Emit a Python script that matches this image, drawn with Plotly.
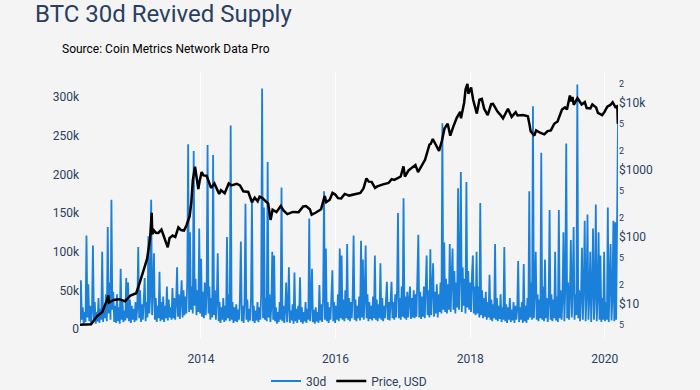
import pandas as pd
import plotly.graph_objects as go

# ---------------- data ----------------
revived_start = "2012-03-16"
revived_end = "2020-03-13"
# 30d revived supply, thousands of BTC, ~5-day steps
revived_30d_k = [
    8, 63, 12, 28, 6, 22, 9, 121, 15, 58,
    10, 30, 6, 25, 108, 12, 35, 7, 22, 10,
    40, 8, 26, 12, 100, 9, 30, 14, 45, 10,
    132, 20, 60, 12, 167, 25, 48, 9, 30, 8,
    45, 10, 28, 7, 78, 12, 35, 9, 24, 11,
    66, 14, 60, 10, 38, 8, 30, 12, 26, 9,
    35, 11, 28, 106, 14, 50, 9, 32, 12, 40,
    66, 10, 35, 15, 120, 20, 45, 167, 18, 50,
    98, 12, 40, 9, 30, 14, 74, 10, 35, 12,
    42, 9, 30, 14, 55, 11, 38, 15, 28, 12,
    53, 14, 40, 12, 35, 80, 16, 45, 13, 38,
    63, 15, 50, 18, 42, 20, 60, 239, 22, 125,
    25, 55, 20, 230, 30, 65, 18, 50, 22, 130,
    20, 91, 16, 48, 14, 60, 18, 45, 238, 20,
    55, 12, 40, 15, 225, 18, 50, 12, 38, 98,
    10, 35, 8, 28, 12, 40, 9, 30, 11, 119,
    14, 45, 10, 263, 12, 35, 8, 28, 10, 32,
    9, 25, 12, 40, 113, 10, 30, 8, 35, 162,
    12, 38, 9, 26, 11, 40, 165, 10, 30, 8,
    24, 11, 35, 9, 28, 12, 45, 311, 14, 157,
    12, 40, 10, 216, 15, 45, 9, 30, 100, 12,
    95, 10, 28, 7, 22, 9, 35, 12, 183, 10,
    30, 8, 25, 60, 9, 28, 80, 8, 24, 11,
    32, 7, 73, 10, 26, 8, 30, 12, 67, 9,
    28, 7, 22, 10, 35, 8, 26, 12, 143, 10,
    30, 78, 9, 25, 7, 28, 10, 22, 8, 57,
    11, 32, 9, 40, 178, 12, 104, 10, 35, 8,
    28, 12, 40, 76, 10, 35, 8, 30, 12, 45,
    10, 104, 14, 95, 12, 38, 10, 50, 14, 110,
    12, 40, 10, 35, 14, 45, 121, 12, 38, 10,
    30, 14, 42, 11, 114, 15, 90, 12, 40, 108,
    14, 45, 10, 35, 13, 30, 11, 42, 14, 95,
    12, 38, 10, 32, 14, 85, 12, 40, 10, 30,
    14, 38, 61, 12, 35, 11, 40, 61, 14, 35,
    12, 45, 15, 50, 150, 14, 40, 12, 55, 16,
    169, 14, 42, 12, 48, 15, 38, 55, 13, 40,
    15, 50, 14, 45, 16, 60, 122, 15, 48, 13,
    42, 16, 55, 14, 45, 95, 18, 50, 15, 103,
    18, 55, 85, 16, 48, 20, 58, 15, 45, 22,
    60, 20, 266, 25, 112, 22, 65, 20, 58, 25,
    110, 22, 70, 104, 25, 75, 20, 60, 28, 182,
    25, 70, 203, 22, 80, 30, 65, 20, 190, 28,
    75, 25, 60, 22, 70, 95, 20, 55, 18, 100,
    20, 55, 15, 163, 18, 50, 14, 40, 16, 48,
    12, 35, 15, 70, 12, 38, 10, 32, 14, 110,
    12, 40, 10, 30, 13, 45, 9, 28, 12, 106,
    10, 32, 8, 28, 12, 40, 9, 25, 11, 35,
    8, 30, 12, 26, 88, 9, 28, 12, 35, 8,
    84, 10, 30, 8, 40, 12, 178, 15, 60, 12,
    288, 14, 50, 100, 12, 45, 10, 38, 14, 228,
    12, 55, 10, 90, 14, 40, 9, 35, 154, 12,
    45, 10, 38, 14, 100, 11, 42, 9, 154, 14,
    50, 12, 40, 125, 10, 55, 240, 14, 60, 12,
    48, 115, 15, 55, 132, 12, 45, 18, 316, 14,
    50, 10, 42, 105, 12, 55, 140, 10, 45, 148,
    12, 40, 100, 9, 50, 130, 12, 45, 161, 10,
    42, 125, 12, 95, 9, 40, 12, 100, 10, 35,
    12, 157, 9, 45, 110, 11, 40, 140, 10, 138,
    12, 141, 268,
]

price_dates = [
    "2012-03-16", "2012-04-15", "2012-05-15", "2012-06-15", "2012-07-15",
    "2012-08-10", "2012-08-17", "2012-08-20", "2012-09-15", "2012-10-15",
    "2012-11-15", "2012-12-15", "2013-01-15", "2013-02-01", "2013-02-15",
    "2013-03-01", "2013-03-15", "2013-03-31", "2013-04-09", "2013-04-12",
    "2013-04-20", "2013-05-01", "2013-05-15", "2013-06-01", "2013-06-15",
    "2013-07-05", "2013-07-15", "2013-08-01", "2013-08-15", "2013-09-01",
    "2013-09-15", "2013-10-01", "2013-10-15", "2013-11-01", "2013-11-10",
    "2013-11-18", "2013-11-30", "2013-12-07", "2013-12-18", "2013-12-25",
    "2014-01-05", "2014-01-15", "2014-02-01", "2014-02-25", "2014-03-15",
    "2014-04-10", "2014-04-20", "2014-05-10", "2014-06-01", "2014-06-15",
    "2014-07-15", "2014-08-01", "2014-08-19", "2014-09-15", "2014-10-05",
    "2014-10-20", "2014-11-05", "2014-11-15", "2014-12-01", "2014-12-15",
    "2015-01-01", "2015-01-14", "2015-01-25", "2015-02-15", "2015-03-10",
    "2015-03-25", "2015-04-15", "2015-05-15", "2015-06-15", "2015-07-10",
    "2015-07-25", "2015-08-15", "2015-08-25", "2015-09-15", "2015-10-15",
    "2015-11-04", "2015-11-12", "2015-12-01", "2015-12-16", "2015-12-31",
    "2016-01-15", "2016-02-01", "2016-02-20", "2016-03-15", "2016-04-15",
    "2016-05-15", "2016-06-01", "2016-06-17", "2016-06-30", "2016-07-15",
    "2016-08-03", "2016-08-15", "2016-09-15", "2016-10-15", "2016-11-01",
    "2016-11-15", "2016-12-01", "2016-12-20", "2017-01-04", "2017-01-12",
    "2017-02-01", "2017-02-20", "2017-03-10", "2017-03-24", "2017-04-15",
    "2017-05-01", "2017-05-25", "2017-06-01", "2017-06-12", "2017-06-25",
    "2017-07-16", "2017-08-01", "2017-08-15", "2017-09-01", "2017-09-15",
    "2017-10-01", "2017-10-20", "2017-11-08", "2017-11-12", "2017-11-29",
    "2017-12-07", "2017-12-17", "2017-12-22", "2018-01-06", "2018-01-17",
    "2018-02-06", "2018-02-20", "2018-03-05", "2018-03-18", "2018-04-06",
    "2018-04-25", "2018-05-05", "2018-05-30", "2018-06-15", "2018-06-28",
    "2018-07-25", "2018-08-14", "2018-09-05", "2018-09-15", "2018-10-15",
    "2018-11-10", "2018-11-20", "2018-11-25", "2018-12-15", "2018-12-25",
    "2019-01-15", "2019-02-07", "2019-02-25", "2019-03-15", "2019-04-02",
    "2019-04-20", "2019-05-14", "2019-05-30", "2019-06-10", "2019-06-26",
    "2019-07-02", "2019-07-10", "2019-07-17", "2019-08-06", "2019-08-29",
    "2019-09-15", "2019-09-25", "2019-10-15", "2019-10-26", "2019-11-15",
    "2019-11-25", "2019-12-18", "2019-12-30", "2020-01-15", "2020-02-01",
    "2020-02-13", "2020-02-28", "2020-03-07", "2020-03-10", "2020-03-12",
    "2020-03-13",
]
price_usd = [
    4.9, 4.9, 5.0, 6.5, 7.6,
    11.5, 13.5, 10.5, 11.5, 11.8,
    11.0, 13.4, 14.5, 20, 27,
    34, 47, 93, 230, 110,
    126, 116, 115, 129, 100,
    70, 97, 105, 100, 139,
    127, 125, 150, 205, 330,
    700, 1120, 780, 520, 680,
    930, 830, 820, 540, 630,
    440, 500, 450, 630, 590,
    620, 590, 480, 470, 330,
    385, 340, 400, 380, 350,
    315, 180, 255, 235, 290,
    250, 220, 237, 235, 285,
    290, 260, 215, 230, 260,
    410, 330, 360, 455, 430,
    380, 375, 440, 415, 430,
    455, 530, 750, 670, 665,
    540, 570, 610, 640, 730,
    710, 750, 800, 1130, 800,
    990, 1080, 1190, 930, 1180,
    1420, 2400, 2450, 2900, 2500,
    1930, 2750, 4200, 4900, 3250,
    4400, 6000, 7400, 5900, 10000,
    16000, 19300, 13800, 17100, 11200,
    6950, 11200, 11500, 8200, 6600,
    9600, 9700, 7400, 6600, 5900,
    8200, 6200, 7300, 6500, 6600,
    6350, 4600, 3800, 3250, 3900,
    3600, 3400, 3800, 3900, 4900,
    5300, 8000, 8600, 8000, 12900,
    10600, 12300, 9400, 11800, 9500,
    10300, 8400, 8300, 9500, 8600,
    7100, 6600, 7300, 8800, 9350,
    10300, 8700, 8900, 7900, 4900,
    5600,
]

left_tick_vals = [0, 50000, 100000, 150000, 200000, 250000, 300000]
left_tick_text = ["0", "50k", "100k", "150k", "200k", "250k", "300k"]
right_tick_vals = [5, 10, 20, 50, 100, 200, 500, 1000, 2000, 5000, 10000, 20000]
right_tick_text = ["5", "$10", "2", "5", "$100", "2", "5", "$1000", "2", "5", "$10k", "2"]

# ---------------- figure ----------------
revived_dates = pd.date_range(revived_start, revived_end, periods=len(revived_30d_k))
revived_values = [v * 1000 for v in revived_30d_k]

small = lambda t: t if t.startswith("$") else f"<span style='font-size:9px'>{t}</span>"

fig = go.Figure()
fig.add_trace(go.Scatter(x=revived_dates, y=revived_values, mode="lines", name="30d",
                         line=dict(color="#1a80d9", width=1.8), yaxis="y"))
fig.add_trace(go.Scatter(x=pd.to_datetime(price_dates), y=price_usd, mode="lines",
                         name="Price, USD", line=dict(color="#000000", width=2.5),
                         yaxis="y2"))

font_col = "#2a3f5f"
fig.update_layout(
    width=700, height=390,
    margin=dict(l=80, r=82, t=72, b=52, autoexpand=False),
    paper_bgcolor="#f4f4f4", plot_bgcolor="#f4f4f4",
    font=dict(family="Roboto, sans-serif", size=12, color=font_col),
    title=dict(text="BTC 30d Revived Supply", x=0.05, xanchor="left", y=0.965,
               yanchor="middle", font=dict(size=24, color="#2a3f5f")),
    showlegend=True,
    legend=dict(orientation="h", x=0.5, xanchor="center", yref="paper",
                y=-0.1617, yanchor="middle", font=dict(size=12)),
    annotations=[dict(text="Source: Coin Metrics Network Data Pro", xref="paper", yref="paper",
                      x=-0.037, y=1.0865, xanchor="left", yanchor="middle", showarrow=False,
                      font=dict(size=12, color="#000000"))],
    xaxis=dict(domain=[0, 1], range=["2012-03-16", "2020-03-13"], dtick="M24",
               tick0="2014-01-01", tickformat="%Y", showgrid=True, gridcolor="#ffffff",
               gridwidth=1, zeroline=False, showline=False, ticks="outside", ticklen=10,
               tickcolor="rgba(0,0,0,0)"),
    yaxis=dict(range=[-11600, 332300], tickvals=left_tick_vals, ticktext=left_tick_text,
               showgrid=False, zeroline=False, showline=False),
    yaxis2=dict(type="log", range=[0.4925, 4.4627], tickvals=right_tick_vals,
                ticktext=[small(t) for t in right_tick_text], overlaying="y", side="right",
                showgrid=False, zeroline=False, showline=False),
)

fig.write_html("out.html", config={"displayModeBar": False},
               post_script="document.body.style.margin='0';")
